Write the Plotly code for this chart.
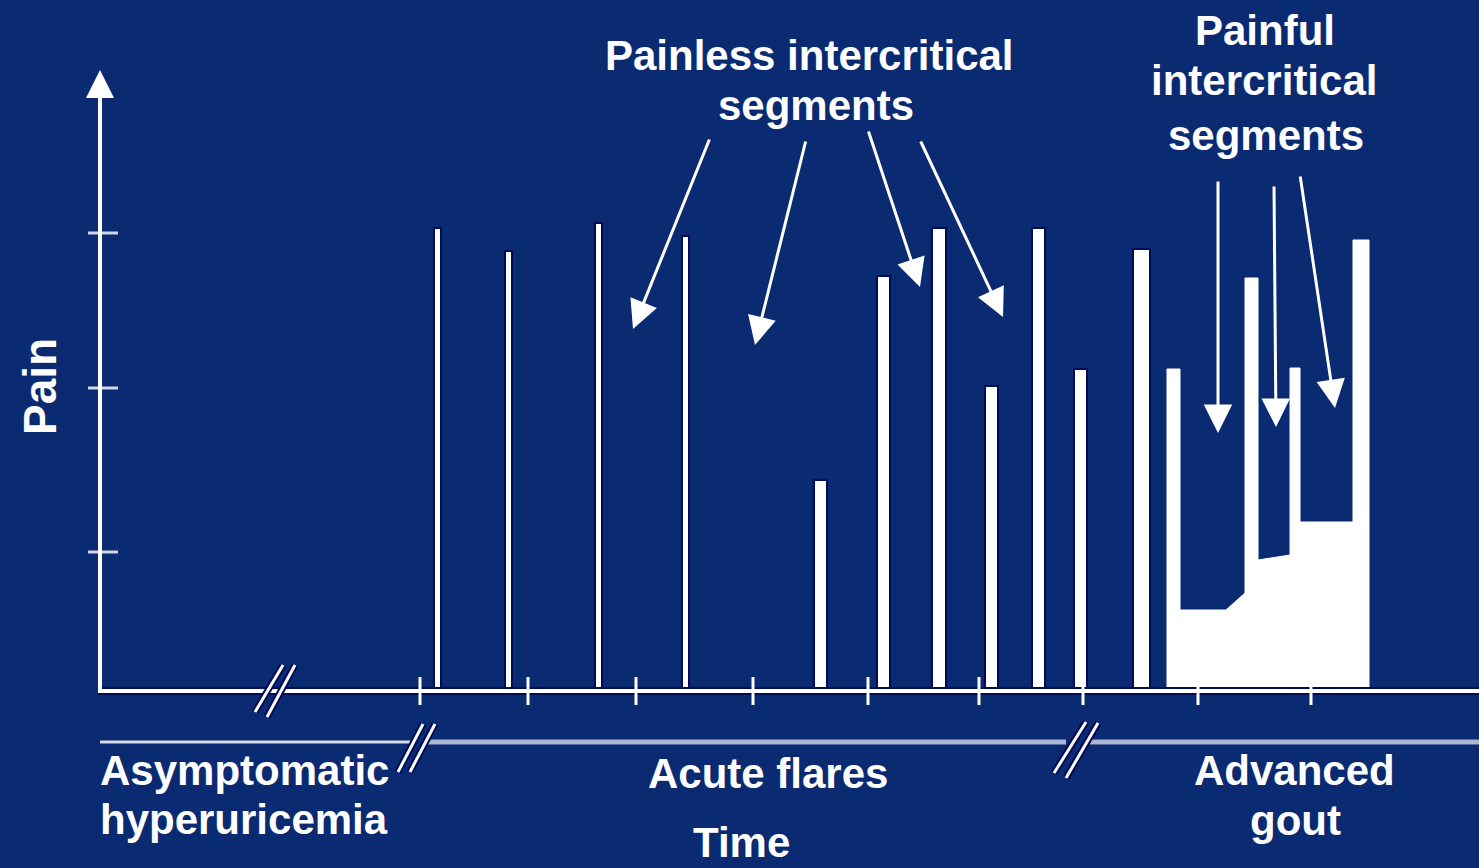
import plotly.graph_objects as go

# ---------------- data ----------------
# acute flares: time position, bar width (time units), pain height
flare_time = [437, 508, 598, 685, 820, 883, 939, 991, 1038, 1080, 1141]
flare_width = [7, 7, 7, 7, 13, 13, 14, 13, 13, 13, 17]
flare_pain = [463, 440, 468, 455, 211, 415, 463, 305, 463, 322, 442]

# advanced gout profile (time, pain)
gout_time = [1167, 1167, 1180, 1180, 1226, 1245, 1245, 1258, 1258, 1290, 1290, 1300, 1300, 1353, 1353, 1369, 1369]
gout_pain = [0, 322, 322, 81, 81, 98, 413, 413, 131, 136, 323, 323, 169, 169, 451, 451, 0]

# axis ticks
time_ticks = [420, 528, 636, 753, 868, 979, 1083, 1198, 1311]
pain_ticks = [139, 303, 458]

# arrows: (tip_time, tip_pain, tail_time, tail_pain)
painless_arrows = [(633, 362, 710, 553), (755, 346, 806, 551), (920, 404, 868, 561), (1003, 374, 920, 551)]
painful_arrows = [(1218, 258, 1218, 511), (1276, 264, 1274, 506), (1335, 283, 1300, 516)]

# phase line segments (start, end) and level
phase_segments = [(100, 410), (428, 1066), (1090, 1479)]
phase_level = -51

# break marks: list of slash lines (t0, p0, t1, p1)
break_marks = [
    (255, -21, 283, 26), (267, -26, 295, 26),
    (398, -81, 423, -33), (410, -81, 435, -33),
    (1054, -82, 1086, -31), (1066, -87, 1098, -32),
]

BG = "#0a2a72"
DARK = "#000b55"
WHITE = "#ffffff"

fig = go.Figure()

# flares (bars)
fig.add_trace(go.Bar(
    x=flare_time, y=flare_pain, width=flare_width,
    marker=dict(color=WHITE, line=dict(color=DARK, width=2)),
    hoverinfo="skip", showlegend=False,
))

# advanced gout area
fig.add_trace(go.Scatter(
    x=gout_time, y=gout_pain, mode="lines", fill="tozeroy",
    fillcolor=WHITE, line=dict(color=WHITE, width=1),
    hoverinfo="skip", showlegend=False,
))

# baseline (time axis)
fig.add_trace(go.Scatter(x=[98, 1479], y=[0, 0], mode="lines",
                         line=dict(color=DARK, width=8), hoverinfo="skip", showlegend=False))
fig.add_trace(go.Scatter(x=[98, 1479], y=[0, 0], mode="lines",
                         line=dict(color=WHITE, width=4), hoverinfo="skip", showlegend=False))

# time ticks
tx, ty = [], []
for t in time_ticks:
    tx += [t, t, None]
    ty += [-14, 14, None]
fig.add_trace(go.Scatter(x=tx, y=ty, mode="lines", line=dict(color=WHITE, width=3),
                         hoverinfo="skip", showlegend=False))

# pain ticks
px, py = [], []
for p in pain_ticks:
    px += [88, 118, None]
    py += [p, p, None]
fig.add_trace(go.Scatter(x=px, y=py, mode="lines", line=dict(color="#d0d8ea", width=3),
                         hoverinfo="skip", showlegend=False))

# phase line
for i, (a, b) in enumerate(phase_segments):
    fig.add_trace(go.Scatter(x=[a, b], y=[phase_level, phase_level], mode="lines",
                             line=dict(color="#d6dcea" if i == 0 else "#aab6d4", width=3 if i == 0 else 5),
                             hoverinfo="skip", showlegend=False))

# break marks
bx, by = [], []
for (t0, p0, t1, p1) in break_marks:
    bx += [t0, t1, None]
    by += [p0, p1, None]
fig.add_trace(go.Scatter(x=bx, y=by, mode="lines", line=dict(color=DARK, width=7),
                         hoverinfo="skip", showlegend=False))
fig.add_trace(go.Scatter(x=bx, y=by, mode="lines", line=dict(color=WHITE, width=3),
                         hoverinfo="skip", showlegend=False))

annotations = []
# pain axis arrow
annotations.append(dict(x=100, y=621, ax=100, ay=0, xref="x", yref="y", axref="x", ayref="y",
                        text="", showarrow=True, arrowhead=2, arrowsize=1.4, arrowwidth=4,
                        arrowcolor=WHITE))
for (xt, yt, xa, ya) in painless_arrows + painful_arrows:
    annotations.append(dict(x=xt, y=yt, ax=xa, ay=ya, xref="x", yref="y", axref="x", ayref="y",
                            text="", showarrow=True, arrowhead=2, arrowsize=1.9, arrowwidth=3,
                            arrowcolor=WHITE))

FONT = dict(family="Liberation Sans, Arial, sans-serif", size=42, color=WHITE)


def label(text, x, y, xanchor="center", size=42, angle=0):
    f = dict(FONT)
    f["size"] = size
    return dict(x=x, y=y, xref="x", yref="y", text="<b>" + text + "</b>", showarrow=False,
                xanchor=xanchor, yanchor="middle", font=f, textangle=angle)


annotations += [
    label("Painless intercritical", 809, 636),
    label("segments", 816, 586),
    label("Painful", 1265, 661),
    label("intercritical", 1264, 611),
    label("segments", 1266, 556),
    label("Asymptomatic", 98, -79, xanchor="left"),
    label("hyperuricemia", 98, -128, xanchor="left"),
    label("Acute flares", 768, -82),
    label("Advanced", 1294, -79),
    label("gout", 1295, -129),
    label("Time", 741, -151),
    label("Pain", 40, 304, size=46, angle=-90),
]

fig.update_layout(
    width=1479, height=868,
    margin=dict(l=0, r=0, t=0, b=0),
    paper_bgcolor=BG, plot_bgcolor=BG,
    xaxis=dict(range=[0, 1479], visible=False, fixedrange=True),
    yaxis=dict(range=[-177, 691], visible=False, fixedrange=True),
    annotations=annotations,
    showlegend=False,
    bargap=0,
)

fig.write_html("out.html", config={"displayModeBar": False},
               post_script="document.body.style.margin='0';document.body.style.background='" + BG + "';")
